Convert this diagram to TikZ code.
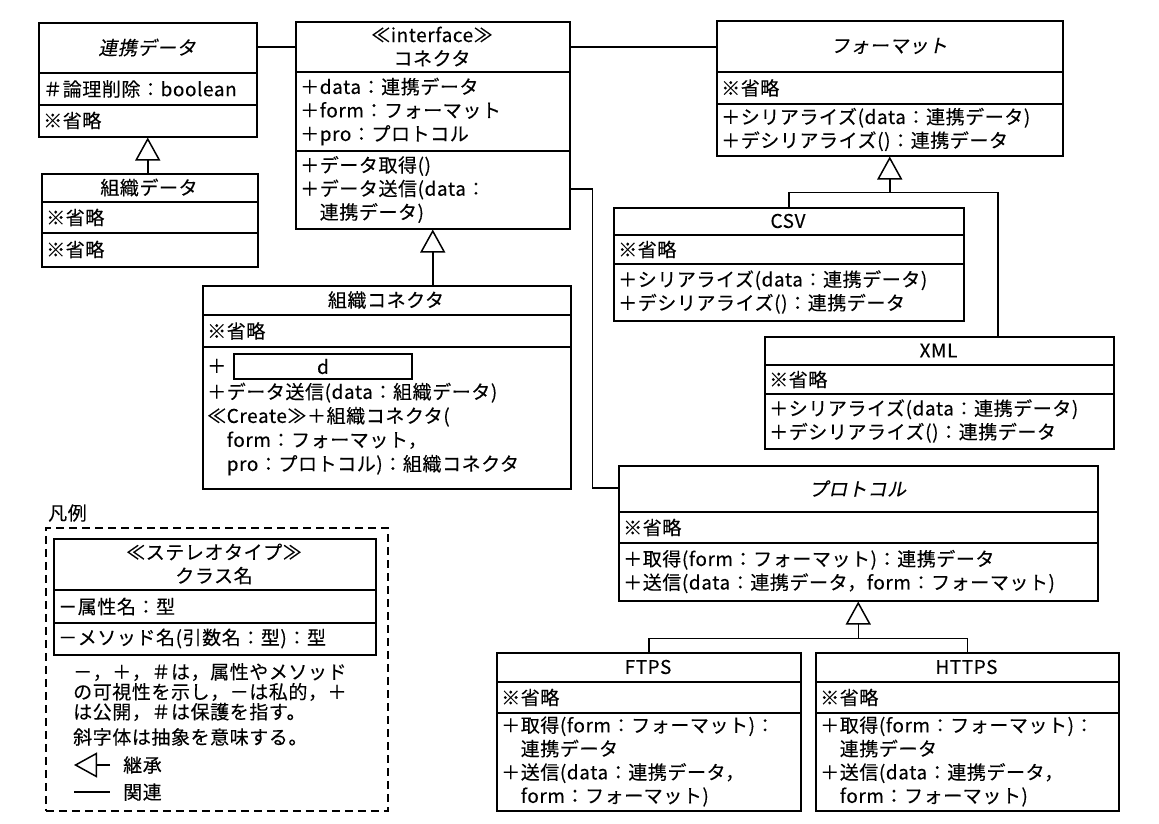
\documentclass[tikz,border=0pt]{standalone}
\usepackage{fontspec}
\setmainfont{Noto Sans CJK JP}[LetterSpace=3,FakeBold=0.2]
\newfontfamily\jpit{Noto Sans CJK JP}[FakeSlant=0.2,LetterSpace=3,FakeBold=0.2]
\usetikzlibrary{arrows.meta,calc}
\newcommand\fs{\fontsize{19}{23.5}\selectfont}
\newcommand\umlclass[7]{%
  \pgfmathsetmacro\uw{#4-#2}\pgfmathsetmacro\uh{#7-#3}%
  \node[clsbox, minimum width=\uw pt, minimum height=\uh pt] (#1) at (#2,#3) {};
  \draw[clsline] (#2,#5) -- (#4,#5);
  \draw[clsline] (#2,#6) -- (#4,#6);
  \coordinate (#1-h) at ({(#2+#4)/2},{(#3+#5)/2});
  \coordinate (#1-a) at ({#2+5},{(#5+#6)/2});
  \coordinate (#1-m) at ({#2+5},{(#6+#7)/2});
}
\begin{document}
\begin{tikzpicture}[x=1pt,y=-1pt,
  clsbox/.style={draw, line width=1.5pt, anchor=north west, inner sep=0pt},
  clsline/.style={line width=1.5pt},
  head/.style={align=center, inner sep=0pt, font=\fs},
  comp/.style={anchor=west, align=left, inner sep=0pt, font=\fs},
  assoc/.style={line width=1.5pt},
  inh/.style={line width=1.5pt, -{Triangle[open, length=23pt, width=25pt]}}]
\path[fill=white] (0,0) rectangle (1159,823);
\useasboundingbox (0,0) rectangle (1159,823);

% 連携データ
\umlclass{rd}{38}{22}{256}{73}{105}{136}
\node[head] (rd-ht) at (rd-h) {\jpit 連携データ};
\node[comp] (rd-at) at (rd-a) {＃論理削除：boolean};
\node[comp] (rd-mt) at (rd-m) {※省略};

% 組織データ
\umlclass{sd}{41}{173}{257}{202}{233}{266}
\node[head] (sd-ht) at (sd-h) {組織データ};
\node[comp] (sd-at) at (sd-a) {※省略};
\node[comp] (sd-mt) at (sd-m) {※省略};

% コネクタ
\umlclass{con}{295}{21}{569}{72}{151}{228}
\node[head] (con-ht) at (con-h) {≪interface≫\\コネクタ};
\node[comp] (con-at) at (con-a) {＋data：連携データ\\＋form：フォーマット\\＋pro：プロトコル};
\node[comp] (con-mt) at (con-m) {＋データ取得()\\＋データ送信(data：\\　連携データ)};

% フォーマット
\umlclass{fmt}{716}{20}{1062}{72}{104}{155}
\node[head] (fmt-ht) at (fmt-h) {\jpit フォーマット};
\node[comp] (fmt-at) at (fmt-a) {※省略};
\node[comp] (fmt-mt) at (fmt-m) {＋シリアライズ(data：連携データ)\\＋デシリアライズ()：連携データ};

% CSV
\umlclass{csv}{613}{207}{963}{235}{264}{320}
\node[head] (csv-ht) at (csv-h) {CSV};
\node[comp] (csv-at) at (csv-a) {※省略};
\node[comp] (csv-mt) at (csv-m) {＋シリアライズ(data：連携データ)\\＋デシリアライズ()：連携データ};

% XML
\umlclass{xml}{764}{336}{1113}{365}{394}{448}
\node[head] (xml-ht) at (xml-h) {XML};
\node[comp] (xml-at) at (xml-a) {※省略};
\node[comp] (xml-mt) at (xml-m) {＋シリアライズ(data：連携データ)\\＋デシリアライズ()：連携データ};

% 組織コネクタ
\umlclass{oc}{202}{285}{570}{315}{347}{488}
\node[head] (oc-ht) at (oc-h) {組織コネクタ};
\node[comp] (oc-at) at (oc-a) {※省略};
\node[comp] (oc-plus) at (207,366) {＋};
\node[draw, line width=2pt, anchor=north west, inner sep=0pt, minimum width=178pt, minimum height=25pt, font=\fs] (oc-d) at (233,353) {d};
\node[comp, font=\fontsize{19}{24}\selectfont] (oc-mt) at (207,429) {＋データ送信(data：組織データ)\\≪Create≫＋組織コネクタ(\\　form：フォーマット，\\　pro：プロトコル)：組織コネクタ};

% プロトコル
\umlclass{proto}{618}{465}{1097}{512}{543}{600}
\node[head] (proto-ht) at (proto-h) {\jpit プロトコル};
\node[comp] (proto-at) at (proto-a) {※省略};
\node[comp] (proto-mt) at (proto-m) {＋取得(form：フォーマット)：連携データ\\＋送信(data：連携データ，form：フォーマット)};

% FTPS
\umlclass{ftps}{496}{652}{800}{682}{713}{810}
\node[head] (ftps-ht) at (ftps-h) {FTPS};
\node[comp] (ftps-at) at (ftps-a) {※省略};
\node[comp] (ftps-mt) at (ftps-m) {＋取得(form：フォーマット)：\\　連携データ\\＋送信(data：連携データ，\\　form：フォーマット)};

% HTTPS
\umlclass{https}{815}{652}{1118}{682}{713}{810}
\node[head] (https-ht) at (https-h) {HTTPS};
\node[comp] (https-at) at (https-a) {※省略};
\node[comp] (https-mt) at (https-m) {＋取得(form：フォーマット)：\\　連携データ\\＋送信(data：連携データ，\\　form：フォーマット)};

% inheritance
\draw[inh] (sd.north -| rd.south) -- (rd.south);
\draw[inh] (oc.north -| con.south) -- (con.south);
\coordinate (fj) at ($(fmt.south)+(0,36)$);
\coordinate (xj) at ([xshift=234pt]xml.north west);
\draw[assoc] (csv.north) |- (fj);
\draw[assoc] (xj) |- (fj);
\draw[inh] (fj) -- (fmt.south);
\coordinate (pj) at ($(proto.south)+(0,37)$);
\draw[assoc] (ftps.north) |- (pj) -| (https.north);
\draw[inh] (pj) -- (proto.south);

% associations
\coordinate (a1) at ([yshift=-25pt]rd.north east);
\draw[assoc] (a1) -- (a1 -| con.west);
\coordinate (a2) at ([yshift=-26pt]con.north east);
\draw[assoc] (a2) -- (a2 -| fmt.west);
\coordinate (a3) at ([yshift=-168pt]con.north east);
\coordinate (a4) at ([yshift=-23pt]proto.north west);
\draw[assoc] (a3) -- ++(22pt,0pt) |- (a4);

% legend
\node[draw, dash pattern=on 8pt off 5pt, line width=1.5pt, anchor=north west, inner sep=0pt, minimum width=342pt, minimum height=283pt] (legend) at (45,527) {};
\node[comp] (legend-t) at (48,513) {凡例};
\umlclass{lc}{53}{538}{375}{590}{623}{654}
\node[head] (lc-ht) at (lc-h) {≪ステレオタイプ≫\\クラス名};
\node[comp] (lc-at) at (lc-a) {－属性名：型};
\node[comp] (lc-mt) at (lc-m) {－メソッド名(引数名：型)：型};
\node[comp, font=\fontsize{19}{20}\selectfont] (lg-txt) at (73,692) {－，＋，＃は，属性やメソッド\\の可視性を示し，－は私的，＋\\は公開，＃は保護を指す。};
\node[comp] (lg-txt2) at (73,737) {斜字体は抽象を意味する。};
\node[comp] (lg-inh) at (123,765) {継承};
\coordinate (li1) at (110,765);
\coordinate (li2) at (74,765);
\draw[inh] (li1) -- (li2);
\node[comp] (lg-as) at (123,792) {関連};
\coordinate (la1) at (74,792);
\coordinate (la2) at (110,792);
\draw[assoc] (la1) -- (la2);
\end{tikzpicture}
\end{document}
